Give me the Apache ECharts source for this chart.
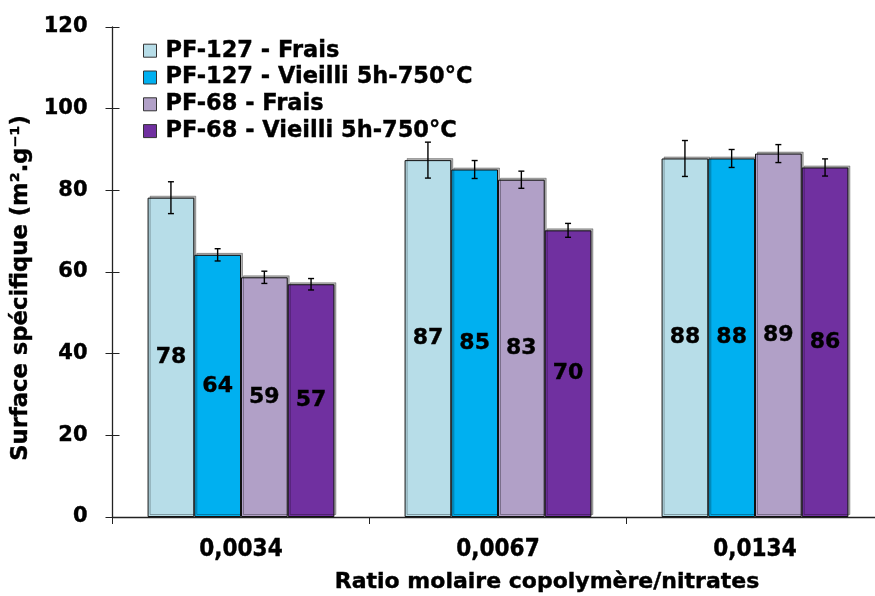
<!DOCTYPE html>
<html>
<head>
<meta charset="utf-8">
<script src="https://cdn.jsdelivr.net/npm/echarts@6/dist/echarts.min.js"></script>
<style>html,body{margin:0;padding:0;background:#fff}#c{width:875px;height:596px}</style>
</head>
<body>
<div id="c"></div>
<script>
const categories = ['0,0034', '0,0067', '0,0134'];
const seriesNames = ['PF-127 - Frais', 'PF-127 - Vieilli 5h-750°C', 'PF-68 - Frais', 'PF-68 - Vieilli 5h-750°C'];
const pf127Frais = [78.2, 87.4, 87.8];
const pf127Vieilli = [64.2, 85.1, 87.8];
const pf68Frais = [58.7, 82.6, 89.0];
const pf68Vieilli = [57.0, 70.2, 85.6];
const pf127FraisErr = [3.9, 4.4, 4.4];
const pf127VieilliErr = [1.5, 2.2, 2.2];
const pf68FraisErr = [1.5, 2.1, 2.2];
const pf68VieilliErr = [1.4, 1.7, 2.1];
const yTicks = [0, 20, 40, 60, 80, 100, 120];
const colors = ['#b7dde8', '#00b0f0', '#b1a0c7', '#7030a0'];

const values = [pf127Frais, pf127Vieilli, pf68Frais, pf68Vieilli];
const errors = [pf127FraisErr, pf127VieilliErr, pf68FraisErr, pf68VieilliErr];
const CAT_GAP = 0.273;
const FONT = 'DejaVu Sans';
const THICK = { textBorderColor: '#000', textBorderWidth: 0.4 };

const chart = echarts.init(document.getElementById('c'));

const barSeries = values.map((vals, i) => ({
  name: seriesNames[i],
  type: 'bar',
  data: vals,
  barGap: '0%',
  barCategoryGap: (CAT_GAP * 100) + '%',
  itemStyle: {
    color: colors[i],
    borderColor: '#111',
    borderWidth: 1,
    shadowColor: 'rgba(0,0,0,0.3)',
    shadowOffsetX: 2,
    shadowOffsetY: -2,
    shadowBlur: 0
  },
  label: Object.assign({
    show: true,
    position: 'inside',
    formatter: p => Math.round(p.value),
    color: '#000',
    fontFamily: FONT,
    fontWeight: 'bold',
    fontSize: 22
  }, THICK),
  z: 2
}));

const errSeries = values.map((vals, i) => ({
  name: seriesNames[i] + ' err',
  type: 'custom',
  data: vals.map((v, j) => [j, v, errors[i][j]]),
  renderItem: (params, api) => {
    const cat = api.value(0), v = api.value(1), e = api.value(2);
    const band = api.size([1, 0])[0];
    const barW = band * (1 - CAT_GAP) / 4;
    const off = (i - 1.5) * barW;
    const top = api.coord([cat, v + e]);
    const bot = api.coord([cat, v - e]);
    const x = top[0] + off;
    const cap = 3;
    const st = { stroke: '#000', lineWidth: 1.4 };
    return {
      type: 'group',
      children: [
        { type: 'line', shape: { x1: x, y1: top[1], x2: x, y2: bot[1] }, style: st },
        { type: 'line', shape: { x1: x - cap, y1: top[1], x2: x + cap, y2: top[1] }, style: st },
        { type: 'line', shape: { x1: x - cap, y1: bot[1], x2: x + cap, y2: bot[1] }, style: st }
      ]
    };
  },
  z: 5,
  silent: true
}));

chart.setOption({
  animation: false,
  backgroundColor: '#fff',
  grid: { left: 112.5, top: 27, width: 771, height: 490, containLabel: false, outerBoundsMode: 'none' },
  legend: {
    data: seriesNames,
    orient: 'vertical',
    left: 143,
    top: 39,
    padding: 0,
    itemWidth: 13,
    itemHeight: 13,
    itemGap: 3.4,
    icon: 'rect',
    itemStyle: { borderColor: '#333', borderWidth: 1, shadowColor: 'transparent', shadowOffsetX: 0, shadowOffsetY: 0 },
    textStyle: Object.assign({ fontFamily: FONT, fontWeight: 'bold', fontSize: 22.5, color: '#000', lineHeight: 22, padding: [0, 0, 0, 4] }, THICK)
  },
  xAxis: {
    type: 'category',
    data: categories,
    name: 'Ratio molaire copolymère/nitrates',
    nameLocation: 'middle',
    nameGap: 54,
    nameTextStyle: Object.assign({ fontFamily: FONT, fontWeight: 'bold', fontSize: 22, color: '#000', padding: [0, 0, 0, 98] }, THICK),
    axisLine: { lineStyle: { color: '#222', width: 1.3 } },
    axisTick: { show: true, length: 7, lineStyle: { color: '#222' } },
    axisLabel: Object.assign({ fontFamily: '"DejaVu Sans Condensed", "DejaVu Sans"', fontWeight: 'bold', fontSize: 24, color: '#000', margin: 21 }, THICK)
  },
  yAxis: [{
    type: 'value',
    min: yTicks[0],
    max: yTicks[yTicks.length - 1],
    interval: yTicks[1] - yTicks[0],
    name: 'Surface spécifique (m².g⁻¹)',
    nameLocation: 'middle',
    nameRotate: 90,
    nameGap: 79,
    nameTextStyle: Object.assign({ fontFamily: FONT, fontWeight: 'bold', fontSize: 22.7, color: '#000', padding: [0, 32, 0, 0] }, THICK),
    axisLine: { show: true, lineStyle: { color: '#222', width: 1.3 } },
    axisTick: { show: true, length: 7, lineStyle: { color: '#222' } },
    axisLabel: Object.assign({ fontFamily: FONT, fontWeight: 'bold', fontSize: 21, color: '#000', margin: 25 }, THICK),
    splitLine: { show: false }
  }, {
    type: 'value',
    position: 'left',
    min: yTicks[0],
    max: yTicks[yTicks.length - 1],
    interval: yTicks[1] - yTicks[0],
    axisLine: { show: false },
    axisTick: { show: true, inside: true, length: 7, lineStyle: { color: '#222' } },
    axisLabel: { show: false },
    splitLine: { show: false }
  }],
  series: [...barSeries, ...errSeries]
});
</script>
</body>
</html>
